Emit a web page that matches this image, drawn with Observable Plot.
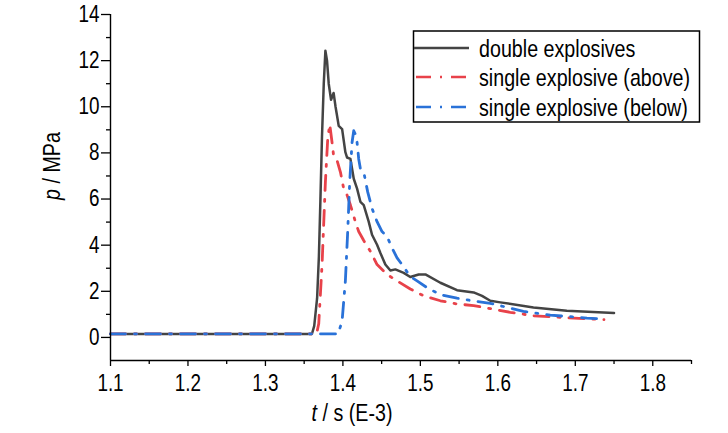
<!DOCTYPE html>
<html><head><meta charset="utf-8">
<script src="https://cdn.jsdelivr.net/npm/d3@7"></script>
<script src="https://cdn.jsdelivr.net/npm/@observablehq/plot@0.6"></script>
<style>body{margin:0;background:#fff}#chart{position:relative;width:728px;height:433px}</style>
</head><body><div id="chart"></div>
<script>
const seriesNames = ["double explosives", "single explosive (above)", "single explosive (below)"];
const seriesColors = ["#444444", "#e8424a", "#2a72d8"];

const tDouble = [1.10,1.360,1.363,1.3667,1.369,1.371,1.373,1.3753,1.3774,1.3795,1.3817,1.3847,1.388,1.3905,1.3925,1.3946,1.399,1.4032,1.4054,1.4097,1.414,1.4183,1.4226,1.4269,1.4333,1.4376,1.4441,1.4484,1.4548,1.4613,1.4677,1.4785,1.487,1.4978,1.5065,1.5258,1.5473,1.5688,1.5796,1.5903,1.6032,1.646,1.689,1.75];
const pDouble = [0.15,0.15,0.5,1.7,3.5,6.0,8.7,11.0,12.43,12.0,11.0,10.3,10.6,10.0,9.6,9.17,9.03,8.03,7.8,7.74,6.88,6.45,5.88,5.74,5.02,4.45,4.02,3.66,3.16,2.9,2.95,2.8,2.62,2.73,2.73,2.37,2.05,1.95,1.8,1.59,1.52,1.3,1.16,1.06];

const tAbove = [1.10,1.366,1.3688,1.3731,1.3774,1.3804,1.383,1.386,1.388,1.3925,1.3968,1.401,1.4054,1.4097,1.4161,1.4204,1.4269,1.4355,1.4441,1.457,1.47,1.487,1.5043,1.5258,1.5473,1.5688,1.5903,1.616,1.646,1.6806,1.737];
const pAbove = [0.15,0.15,0.59,3.16,6.74,8.6,9.24,8.45,7.88,7.67,7.17,6.45,6.17,5.74,5.02,4.59,4.2,3.73,3.16,2.73,2.45,2.1,1.8,1.59,1.45,1.38,1.25,1.09,0.94,0.87,0.77];

const tBelow = [1.10,1.394,1.399,1.4032,1.4062,1.4088,1.4118,1.414,1.4162,1.4183,1.4204,1.4226,1.4269,1.432,1.4376,1.4441,1.4505,1.457,1.4634,1.4699,1.4763,1.487,1.4957,1.5086,1.5258,1.5473,1.5688,1.5903,1.633,1.6677,1.715,1.737];
const pBelow = [0.15,0.15,0.73,2.45,4.59,6.74,8.45,8.96,8.8,8.45,7.74,7.31,7.17,6.31,5.59,5.02,4.59,4.38,3.88,3.45,3.16,2.64,2.45,2.16,1.85,1.7,1.58,1.48,1.13,0.97,0.84,0.8];

const xTicks = [1.1,1.2,1.3,1.4,1.5,1.6,1.7,1.8];
const xMinorTicks = [1.15,1.25,1.35,1.45,1.55,1.65,1.75,1.85];
const yTicks = [0,2,4,6,8,10,12,14];
const yMinorTicks = [1,3,5,7,9,11,13];

function hasFont(name){
  const c = document.createElement("canvas").getContext("2d");
  const s = "double explosives 1.4 (E-3)";
  c.font = "40px monospace"; const w1 = c.measureText(s).width;
  c.font = `40px '${name}', monospace`; const w2 = c.measureText(s).width;
  return Math.abs(w1 - w2) > 0.5;
}
const narrow = ["Liberation Sans Narrow","Arial Narrow"].find(hasFont);
const FONT = narrow ? `'${narrow}'` : "'Liberation Sans', Arial, sans-serif";
const SX = narrow ? 1 : 0.82;   // horizontal condensing of the own texts

const toRows = (ts, ps, name) => ts.map((t, i) => ({t, p: ps[i], series: name}));
const rowsDouble = toRows(tDouble, pDouble, seriesNames[0]);
const rowsAbove = toRows(tAbove, pAbove, seriesNames[1]);
const rowsBelow = toRows(tBelow, pBelow, seriesNames[2]);
const dashDot = "15,9,2,9";

const plot = Plot.plot({
  width: 728, height: 433,
  marginLeft: 110, marginRight: 37, marginTop: 14, marginBottom: 73,
  style: {fontFamily: FONT, fontSize: "23px", color: "#000", background: "#fff", overflow: "visible"},
  x: {domain: [1.1, 1.85], axis: null},
  y: {domain: [-1, 14], axis: null},
  marks: [
    Plot.line(rowsDouble, {x: "t", y: "p", stroke: seriesColors[0], strokeWidth: 2.5, strokeLinejoin: "round"}),
    Plot.line(rowsAbove, {x: "t", y: "p", stroke: seriesColors[1], strokeWidth: 2.8, strokeDasharray: dashDot}),
    Plot.line(rowsBelow, {x: "t", y: "p", stroke: seriesColors[2], strokeWidth: 2.8, strokeDasharray: dashDot}),
    Plot.ruleX([1.1], {stroke: "#000", strokeWidth: 1.4}),
    Plot.ruleY([-1], {stroke: "#000", strokeWidth: 1.4}),
    Plot.axisX({ticks: xTicks, anchor: "bottom", tickSize: 6, tickPadding: 8, tickFormat: d => d.toFixed(1), label: null, strokeWidth: 1.3}),
    Plot.axisX({ticks: xMinorTicks, anchor: "bottom", tickSize: 4, tickFormat: () => "", label: null, strokeWidth: 1.3}),
    Plot.axisY({ticks: yTicks, anchor: "left", tickSize: 9, tickPadding: 2, tickFormat: d => String(d), label: null, strokeWidth: 1.3}),
    Plot.axisY({ticks: yMinorTicks, anchor: "left", tickSize: 4, tickFormat: () => "", label: null, strokeWidth: 1.3})
  ]
});
document.getElementById("chart").appendChild(plot);

// condense Plot's own tick labels when no narrow face is installed
if (!narrow) {
  plot.querySelectorAll("text").forEach(t => {
    const w = t.getComputedTextLength();
    if (w > 0) { t.setAttribute("textLength", (w * SX).toFixed(2)); t.setAttribute("lengthAdjust", "spacingAndGlyphs"); }
  });
}

const svg = d3.select(plot);
// axis titles
const yl = svg.append("text").attr("transform", `translate(52,166) rotate(-90) scale(${SX},1)`)
  .attr("text-anchor", "middle").attr("dy", "0.35em").style("font-size", "24px").attr("fill", "#000");
yl.append("tspan").attr("font-style", "italic").text("p");
yl.append("tspan").text(" / MPa");
const xl = svg.append("text").attr("transform", `translate(352,421) scale(${SX},1)`)
  .attr("text-anchor", "middle").style("font-size", "24px").attr("fill", "#000");
xl.append("tspan").attr("font-style", "italic").text("t");
xl.append("tspan").text(" / s (E-3)");

// legend
const lg = svg.append("g").attr("text-anchor", "start");
lg.append("rect").attr("x", 413.5).attr("y", 31).attr("width", 286).attr("height", 91)
  .attr("fill", "#fff").attr("stroke", "#000").attr("stroke-width", 1.5);
const rowY = [48, 77, 107];
seriesNames.forEach((name, i) => {
  lg.append("line").attr("x1", i === 0 ? 414 : 416).attr("x2", 469).attr("y1", rowY[i]).attr("y2", rowY[i])
    .attr("stroke", seriesColors[i]).attr("stroke-width", 2.6)
    .attr("stroke-dasharray", i === 0 ? null : dashDot);
  lg.append("text").attr("transform", `translate(479,${rowY[i]}) scale(${SX},1)`).attr("dy", "0.36em")
    .attr("text-anchor", "start").style("font-size", "24px").attr("fill", "#000").text(name);
});
</script></body></html>
